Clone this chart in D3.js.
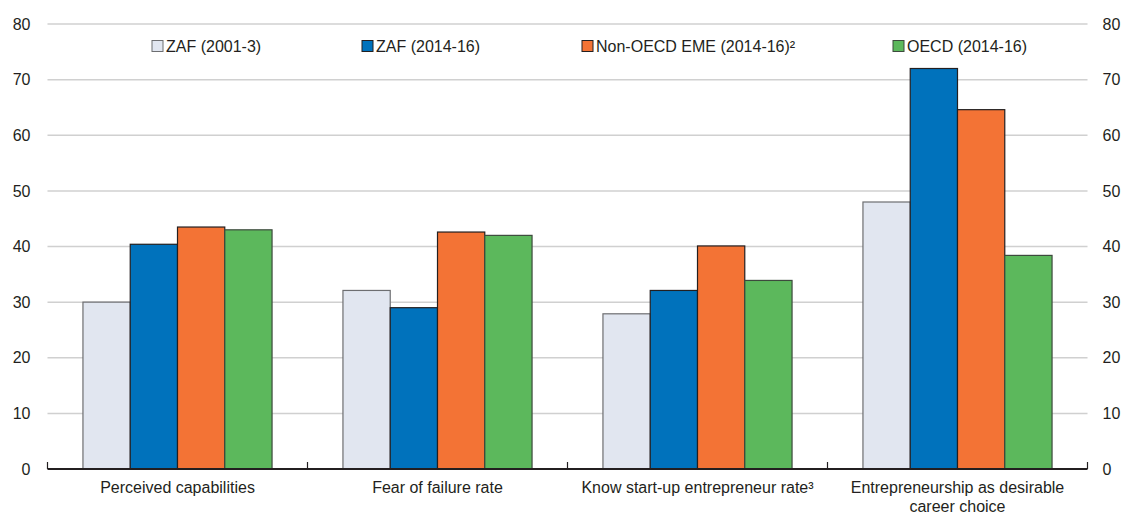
<!DOCTYPE html>
<html><head><meta charset="utf-8">
<script src="https://cdn.jsdelivr.net/npm/d3@7"></script>
<style>
html,body{margin:0;padding:0;background:#fff;}
svg text{font-family:"Liberation Sans",Arial,Helvetica,sans-serif;fill:#231f20;}
</style></head>
<body>
<svg id="chart" width="1125" height="516"></svg>
<script>
const categories = [
  ["Perceived capabilities"],
  ["Fear of failure rate"],
  ["Know start-up entrepreneur rate³"],
  ["Entrepreneurship as desirable", "career choice"]
];
const seriesNames = ["ZAF (2001-3)", "ZAF (2014-16)", "Non-OECD EME (2014-16)²", "OECD (2014-16)"];
const zaf2001 = [30.0, 32.1, 27.9, 48.0];
const zaf2014 = [40.4, 29.0, 32.1, 72.0];
const nonOecd = [43.5, 42.6, 40.1, 64.6];
const oecd    = [43.0, 42.0, 33.9, 38.4];
const yTicks = [0, 10, 20, 30, 40, 50, 60, 70, 80];
const colors = ["#e1e6f0", "#0072bc", "#f37335", "#5cb85c"];
const strokes = ["#6d6e71", "#231f20", "#231f20", "#3d4a3d"];

const series = [zaf2001, zaf2014, nonOecd, oecd];
const svg = d3.select("#chart");
const L = 47.5, R = 1087.5, T = 24, B = 469;

const x0 = d3.scaleBand().domain(d3.range(categories.length)).range([L, R]).paddingInner(0).paddingOuter(0);
const x1 = d3.scaleBand().domain(d3.range(series.length)).range([0, x0.bandwidth()]).paddingInner(0).paddingOuter(0.75);
const y = d3.scaleLinear().domain([0, 80]).range([B, T]);

// gridlines
svg.append("g").selectAll("line").data(yTicks.filter(d => d > 0)).join("line")
  .attr("x1", L).attr("x2", R).attr("y1", d => y(d)).attr("y2", d => y(d))
  .attr("stroke", "#d0d0d0").attr("stroke-width", 1.5);

// left axis
const yl = svg.append("g").attr("transform", `translate(${L},0)`)
  .call(d3.axisLeft(y).tickValues(yTicks).tickSize(0).tickPadding(17));
yl.select(".domain").remove();
yl.selectAll("text").attr("font-size", 16).style("font-family", "'Liberation Sans',Arial,sans-serif").attr("fill", "#231f20");

// right axis
const yr = svg.append("g").attr("transform", `translate(${R},0)`)
  .call(d3.axisRight(y).tickValues(yTicks).tickSize(0).tickPadding(15));
yr.select(".domain").remove();
yr.selectAll("text").attr("font-size", 16).style("font-family", "'Liberation Sans',Arial,sans-serif").attr("fill", "#231f20");

// bars
const groups = svg.append("g").selectAll("g").data(categories.map((c, i) => i)).join("g")
  .attr("transform", i => `translate(${x0(i)},0)`);
groups.selectAll("rect").data(i => series.map((s, k) => ({k, v: s[i]}))).join("rect")
  .attr("x", d => x1(d.k)).attr("width", x1.bandwidth())
  .attr("y", d => y(d.v)).attr("height", d => B - y(d.v))
  .attr("fill", d => colors[d.k]).attr("stroke", d => strokes[d.k]).attr("stroke-width", 1.2);

// x axis
const xa = svg.append("g").attr("transform", `translate(0,${B})`);
xa.append("line").attr("x1", L).attr("x2", R).attr("y1", 0).attr("y2", 0)
  .attr("stroke", "#231f20").attr("stroke-width", 2.2);
const bounds = d3.range(categories.length + 1).map(i => i < categories.length ? x0(i) : x0(i - 1) + x0.bandwidth());
xa.selectAll("line.tk").data(bounds).join("line").attr("class", "tk")
  .attr("x1", d => d).attr("x2", d => d).attr("y1", 0).attr("y2", -7)
  .attr("stroke", "#231f20").attr("stroke-width", 1.2);
const lbl = xa.selectAll("text.cat").data(categories).join("text").attr("class", "cat")
  .attr("x", (d, i) => x0(i) + x0.bandwidth() / 2).attr("y", 24)
  .attr("text-anchor", "middle").attr("font-size", 16);
lbl.selectAll("tspan").data(d => d).join("tspan")
  .attr("x", function() { return d3.select(this.parentNode).attr("x"); })
  .attr("dy", (d, j) => j === 0 ? 0 : 19).text(d => d);

// legend
const legX = [152, 362, 582, 893];
const leg = svg.append("g").selectAll("g").data(seriesNames).join("g")
  .attr("transform", (d, i) => `translate(${legX[i]},${46})`);
leg.append("rect").attr("x", 0).attr("y", -5.5).attr("width", 11).attr("height", 11)
  .attr("fill", (d, i) => colors[i]).attr("stroke", (d, i) => strokes[i]).attr("stroke-width", 1);
leg.append("text").attr("x", 14).attr("y", 6).attr("font-size", 16).text(d => d);
</script>
</body></html>
